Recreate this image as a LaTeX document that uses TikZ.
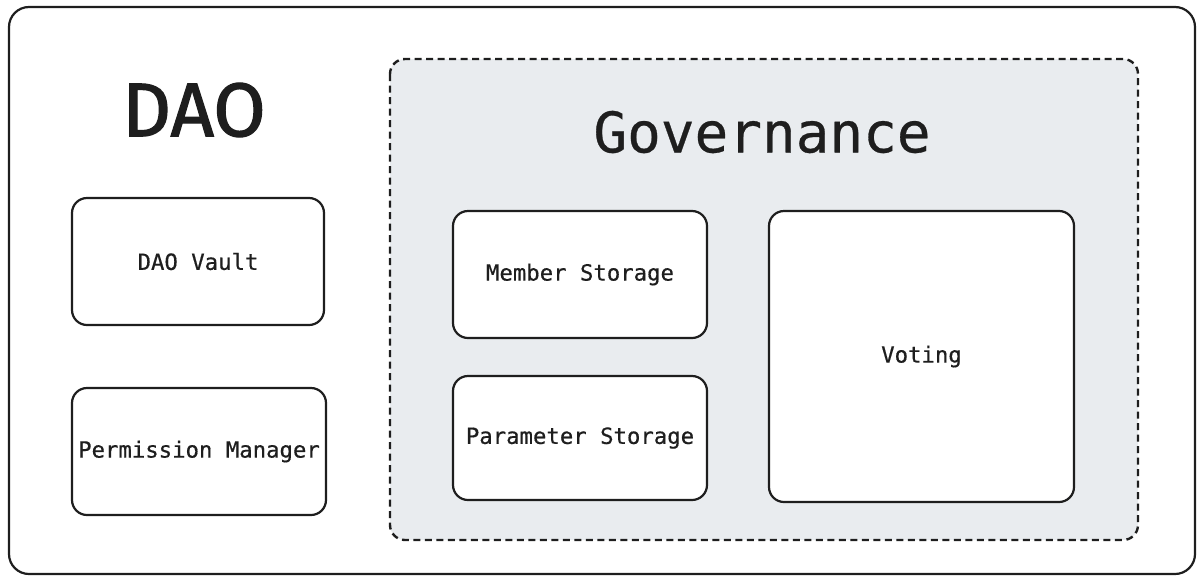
\documentclass[tikz,border=0pt]{standalone}
\usepackage{fontspec}
\newfontfamily\monofont[FakeBold=0.5]{DejaVu Sans Mono}
\newfontfamily\headfont[FakeBold=1.6]{Fira Sans}
\definecolor{ink}{HTML}{1E1E1E}
\definecolor{govfill}{HTML}{E9ECEF}
\tikzset{
  part/.style={draw=ink, line width=2.2pt, rounded corners=15pt, fill=white,
    font=\monofont\fontsize{22.3}{24}\selectfont, text=ink, inner sep=0pt},
}
\begin{document}
\begin{tikzpicture}[x=1pt,y=-1pt]
\useasboundingbox (0,0) rectangle (1198,576);
% outer DAO frame
\draw[ink, line width=2.2pt, rounded corners=20pt] (9,7) rectangle (1195,574);
\node[font=\headfont\fontsize{76}{86}\selectfont, text=ink] (dao) at (194,110) {DAO};
% governance area
\draw[ink, fill=govfill, line width=2.4pt, dash pattern=on 7pt off 4.5pt, rounded corners=15pt] (390,59) rectangle (1138,540);
\node[font=\monofont\fontsize{56}{60}\selectfont, text=ink] (gov) at (762,132) {Governance};
\node[part, minimum width=252pt, minimum height=127pt] (vault) at (198,261.5) {DAO Vault};
\node[part, minimum width=254pt, minimum height=127pt] (perm) at (199,451.5) {Permission Manager};
\node[part, minimum width=254pt, minimum height=127pt] (member) at (580,274.5) {Member Storage};
\node[part, minimum width=254pt, minimum height=124pt] (param) at (580,438) {Parameter Storage};
\node[part, minimum width=305pt, minimum height=291pt] (voting) at (921.5,356.5) {Voting};
\end{tikzpicture}
\end{document}
